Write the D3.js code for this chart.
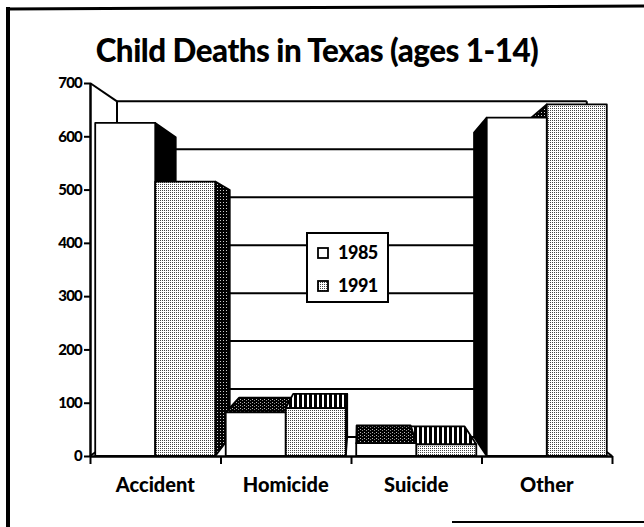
<!DOCTYPE html>
<html>
<head>
<meta charset="utf-8">
<script src="https://cdn.jsdelivr.net/npm/d3@7"></script>
<style>
  html, body { margin: 0; padding: 0; background: #fff; }
  svg { display: block; font-family: Lato, "Open Sans", sans-serif; }
</style>
</head>
<body>
<svg id="chart" width="644" height="527"></svg>
<script>
// ---- data ----
const title = "Child Deaths in Texas (ages 1-14)";
const categories = ["Accident", "Homicide", "Suicide", "Other"];
const series = ["1985", "1991"];
const values1985 = [625, 82, 24, 635];
const values1991 = [515, 90, 22, 660];
const yTicks = [0, 100, 200, 300, 400, 500, 600, 700];

// ---- setup ----
const svg = d3.select("#chart");
const vx = 360, vy = 266, depth = 0.1; // perspective vanishing point & wall depth

const x0 = d3.scaleBand().domain(categories).range([90, 612]).paddingInner(0).paddingOuter(0);
const x1 = d3.scaleBand().domain(series).range([x0.bandwidth() * 0.04, x0.bandwidth() * 0.96]);
const y = d3.scaleLinear().domain([0, 700]).range([456, 83]);
const xi = d3.scaleLinear().domain([0, categories.length]).range([90, 612]);

function P(px, py, z) { return [px + z * (vx - px), py + z * (vy - py)]; }
const poly = pts => "M" + pts.map(p => p.join(",")).join("L") + "Z";

// ---- patterns ----
const defs = svg.append("defs");
function pattern(id, w, h, bg, dots) {
  const p = defs.append("pattern").attr("id", id).attr("patternUnits", "userSpaceOnUse")
    .attr("width", w).attr("height", h);
  p.append("rect").attr("width", w).attr("height", h).attr("fill", bg);
  dots.forEach(d => p.append("rect").attr("x", d[0]).attr("y", d[1]).attr("width", d[2]).attr("height", d[3]).attr("fill", d[4]));
}
pattern("stip", 2, 2, "#ffffff", [[0, 0, 1, 1, "#444"]]);
pattern("dark", 3, 3, "#000000", [[1, 1, 1, 1, "#ccc"]]);
pattern("speck", 4, 3, "#000000", [[0, 0, 1, 1, "#bbb"], [2, 1, 1, 1, "#888"]]);
pattern("vhatch", 5, 4, "#000000", [[2, 0, 2, 4, "#fff"]]);

const frontFill = { "1985": "#ffffff", "1991": "url(#stip)" };
const sideFill = { "1985": "#000000", "1991": "url(#dark)" };
const topFill = { "1985": "url(#speck)", "1991": "url(#vhatch)" };

// ---- frame ----
svg.append("line").attr("x1", 8).attr("y1", 7).attr("x2", 8).attr("y2", 527).attr("stroke", "#000").attr("stroke-width", 4);
svg.append("line").attr("x1", 6).attr("y1", 9).attr("x2", 644).attr("y2", 6).attr("stroke", "#000").attr("stroke-width", 3);
svg.append("line").attr("x1", 452).attr("y1", 522).attr("x2", 644).attr("y2", 522).attr("stroke", "#000").attr("stroke-width", 2);

// ---- title ----
const t = svg.append("text").attr("x", 317).attr("y", 62).attr("text-anchor", "middle")
  .attr("font-weight", 900).attr("font-size", 27).attr("fill", "#000").attr("letter-spacing", -0.5).text(title);
const tl = t.node().getComputedTextLength();
if (tl > 0) t.attr("font-size", 27 * 440 / tl);

// ---- back wall & floor ----
const walls = svg.append("g").attr("fill", "none").attr("stroke", "#000").attr("stroke-width", 2);
const xL = 90, xR = 612;
yTicks.filter(v => v > 0).forEach(v => {
  const a = P(xL, y(v), depth), b = P(xR, y(v), depth);
  walls.append("line").attr("x1", a[0]).attr("y1", a[1]).attr("x2", b[0]).attr("y2", b[1]);
});
{
  const tl0 = P(xL, y(700), depth), bl0 = P(xL, y(0), depth), br0 = P(xR, y(0), depth), tr0 = P(xR, y(700), depth);
  walls.append("line").attr("x1", tl0[0]).attr("y1", tl0[1]).attr("x2", bl0[0]).attr("y2", bl0[1]);
  walls.append("line").attr("x1", tr0[0]).attr("y1", tr0[1]).attr("x2", br0[0]).attr("y2", br0[1]);
  walls.append("line").attr("x1", bl0[0]).attr("y1", bl0[1]).attr("x2", br0[0]).attr("y2", br0[1]);
  walls.append("line").attr("x1", xL).attr("y1", y(700)).attr("x2", tl0[0]).attr("y2", tl0[1]);
  walls.append("line").attr("x1", xL).attr("y1", y(0)).attr("x2", bl0[0]).attr("y2", bl0[1]);
  walls.append("line").attr("x1", xR).attr("y1", y(0)).attr("x2", br0[0]).attr("y2", br0[1]);
}

// ---- bars ----
const bars = [];
categories.forEach((c, i) => {
  [["1985", values1985[i]], ["1991", values1991[i]]].forEach(([s, v]) => {
    const a = x0(c) + x1(s), b = a + x1.bandwidth();
    bars.push({ c, s, v, a, b, yt: y(v), yb: y(0) });
  });
});
bars.sort((p, q) => Math.abs((q.a + q.b) / 2 - vx) - Math.abs((p.a + p.b) / 2 - vx));

const gb = svg.append("g").attr("stroke", "#000").attr("stroke-width", 1.8).attr("stroke-linejoin", "round");
bars.forEach(d => {
  const g = gb.append("g");
  if (d.a > vx) g.append("path").attr("fill", sideFill[d.s])
    .attr("d", poly([[d.a, d.yt], P(d.a, d.yt, depth), P(d.a, d.yb, depth), [d.a, d.yb]]));
  if (d.b < vx) g.append("path").attr("fill", sideFill[d.s])
    .attr("d", poly([[d.b, d.yt], P(d.b, d.yt, depth), P(d.b, d.yb, depth), [d.b, d.yb]]));
  if (d.yt > vy) g.append("path").attr("fill", topFill[d.s])
    .attr("d", poly([[d.a, d.yt], [d.b, d.yt], P(d.b, d.yt, depth), P(d.a, d.yt, depth)]));
  g.append("rect").attr("x", d.a).attr("y", d.yt).attr("width", d.b - d.a).attr("height", d.yb - d.yt)
    .attr("fill", frontFill[d.s]);
});

// ---- axes ----
const yAxis = svg.append("g").attr("transform", "translate(90,0)")
  .call(d3.axisLeft(y).tickValues(yTicks).tickSize(6).tickSizeOuter(0).tickPadding(2));
yAxis.select(".domain").attr("stroke-width", 2.5);
yAxis.selectAll(".tick line").attr("stroke-width", 2);
yAxis.selectAll(".tick text").attr("font-family", "Lato, sans-serif").attr("font-weight", 900)
  .attr("font-size", 15).attr("fill", "#000").attr("letter-spacing", -0.8);

const xAxis = svg.append("g").attr("transform", "translate(0,456)")
  .call(d3.axisBottom(xi).tickValues(d3.range(categories.length + 1)).tickFormat("").tickSize(8).tickSizeOuter(0));
xAxis.select(".domain").attr("stroke-width", 2.5);
xAxis.selectAll(".tick line").attr("stroke-width", 2);

svg.append("g").selectAll("text").data(categories).join("text")
  .attr("x", d => x0(d) + x0.bandwidth() / 2).attr("y", 492)
  .attr("text-anchor", "middle").attr("font-weight", 900).attr("font-size", 20).attr("fill", "#000")
  .text(d => d);

// ---- legend ----
const lg = svg.append("g");
lg.append("rect").attr("x", 307).attr("y", 233).attr("width", 81).attr("height", 69)
  .attr("fill", "#fff").attr("stroke", "#000").attr("stroke-width", 2);
series.forEach((s, i) => {
  const cy = 253 + i * 33;
  lg.append("rect").attr("x", 318).attr("y", cy - 5).attr("width", 10).attr("height", 10)
    .attr("fill", frontFill[s]).attr("stroke", "#000").attr("stroke-width", 1.8);
  lg.append("text").attr("x", 338).attr("y", cy + 6).attr("font-weight", 900).attr("font-size", 18)
    .attr("fill", "#000").attr("letter-spacing", -0.5).text(s);
});
</script>
</body>
</html>
